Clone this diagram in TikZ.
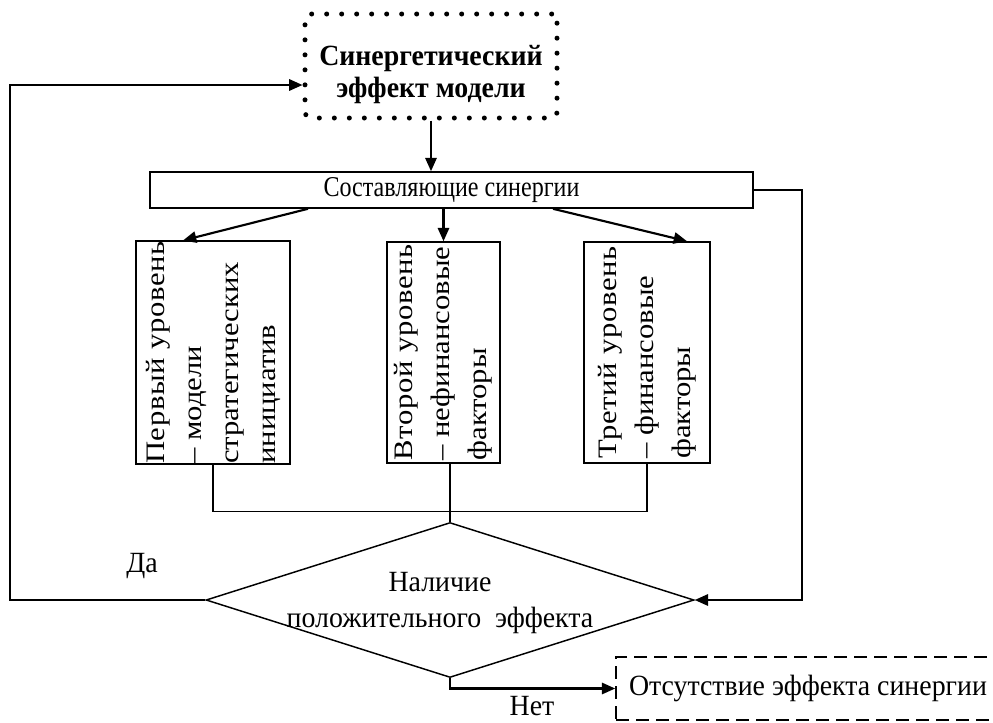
\documentclass[tikz,border=0pt]{standalone}
\usepackage{fontspec}
\setmainfont{Liberation Serif}
\newfontfamily\narrowfont[FakeStretch=0.84]{Liberation Serif}
\newfontfamily\mediumfont[FakeStretch=0.95]{Liberation Serif}
\newfontfamily\widefont[FakeStretch=1.15]{Liberation Serif}
\newfontfamily\spacedfont[FakeStretch=1.15, LetterSpace=2.5]{Liberation Serif}
\usepackage{tikz}
\usetikzlibrary{
	shapes.geometric,
	arrows.meta,
	positioning,
	calc
}

\begin{document}
\begin{tikzpicture}[
    x=0.75pt, y=-0.75pt,
    block/.style={rectangle, draw, line width=1.2pt, inner sep=0pt},
    txt/.style={font=\mediumfont\fontsize{22}{27}\selectfont},
    dotbox/.style={rectangle, draw, line width=3.75pt, dash pattern=on 0pt off 11.25pt, line cap=round, rounded corners=4pt, minimum width=252*0.75pt, minimum height=104*0.75pt},
    levelbox/.style={block, rotate=90, minimum width=221*0.75pt, align=left, font=\widefont\fontsize{20}{27.75}\selectfont},
    decision/.style={diamond, draw, line width=1.1pt, inner sep=0pt, minimum width=488*0.75pt, minimum height=155*0.75pt},
    arrow/.style={line width=1.6pt, -{Triangle[length=10pt,width=8.5pt]}},
    link/.style={line width=1pt}
]
\useasboundingbox (0,0) rectangle (993,722);

% Top block
\node[dotbox] (effect) at (431,66) {};
\node[align=center, font=\mediumfont\bfseries\fontsize{22}{24}\selectfont] (efftxt) at (431,75) {Синергетический\\эффект модели};

% Components of synergy
\node[block, font=\narrowfont\fontsize{21.5}{26}\selectfont, minimum width=603*0.75pt, minimum height=36*0.75pt] (comp) at (451.5,190) {Составляющие синергии};

% Three levels
\node[levelbox, minimum height=154*0.75pt] (lvl1) at (213,352.5) {{\spacedfont Первый уровень}\\– модели\\стратегических\\инициатив};
\node[levelbox, minimum height=113*0.75pt] (lvl2) at (443.5,352.5) {{\spacedfont Второй уровень}\\– нефинансовые\\факторы};
\node[levelbox, minimum height=126*0.75pt] (lvl3) at (647,352.5) {{\spacedfont Третий уровень}\\– финансовые\\факторы};

% Decision
\node[decision] (dia) at (450,600) {};
\node[txt, align=center] (diatxt) at (440,603) {Наличие\\положительного~~эффекта};

% No effect
\node[block, txt, dashed, dash pattern=on 10pt off 5pt, minimum width=384*0.75pt, minimum height=63*0.75pt] (nobox) at (808,688.5) {Отсутствие эффекта синергии};

% Labels
\node[txt] (yes) at (142,566) {Да};
\node[txt] (no) at (532,706) {Нет};

% Arrows (main flow)
\draw[arrow] (effect.south) -- (effect.south |- comp.north);
\draw[arrow] ($(comp.south)+(-143.5,0)$) -- ($(lvl1.east)+(-30,0)$);
\draw[arrow] (comp.south -| lvl2.east) -- (lvl2.east);
\draw[arrow] ($(comp.south)+(101.5,0)$) -- ($(lvl3.east)+(40,0)$);

% Collecting lines
\draw[link] (lvl1.west) -- ++(0,47) -| (lvl3.west);
\draw[link] (lvl2.west -| dia.north) -- (dia.north);

% Feedback loops
\draw[arrow] (comp.east) -- ++(48,0) |- (dia.east);
\draw[arrow] (dia.west) -- ++(-195,0) |- ($(effect.west)+(0,19)$);
\draw[arrow] (dia.south) |- (nobox.west);

\end{tikzpicture}
\end{document}
